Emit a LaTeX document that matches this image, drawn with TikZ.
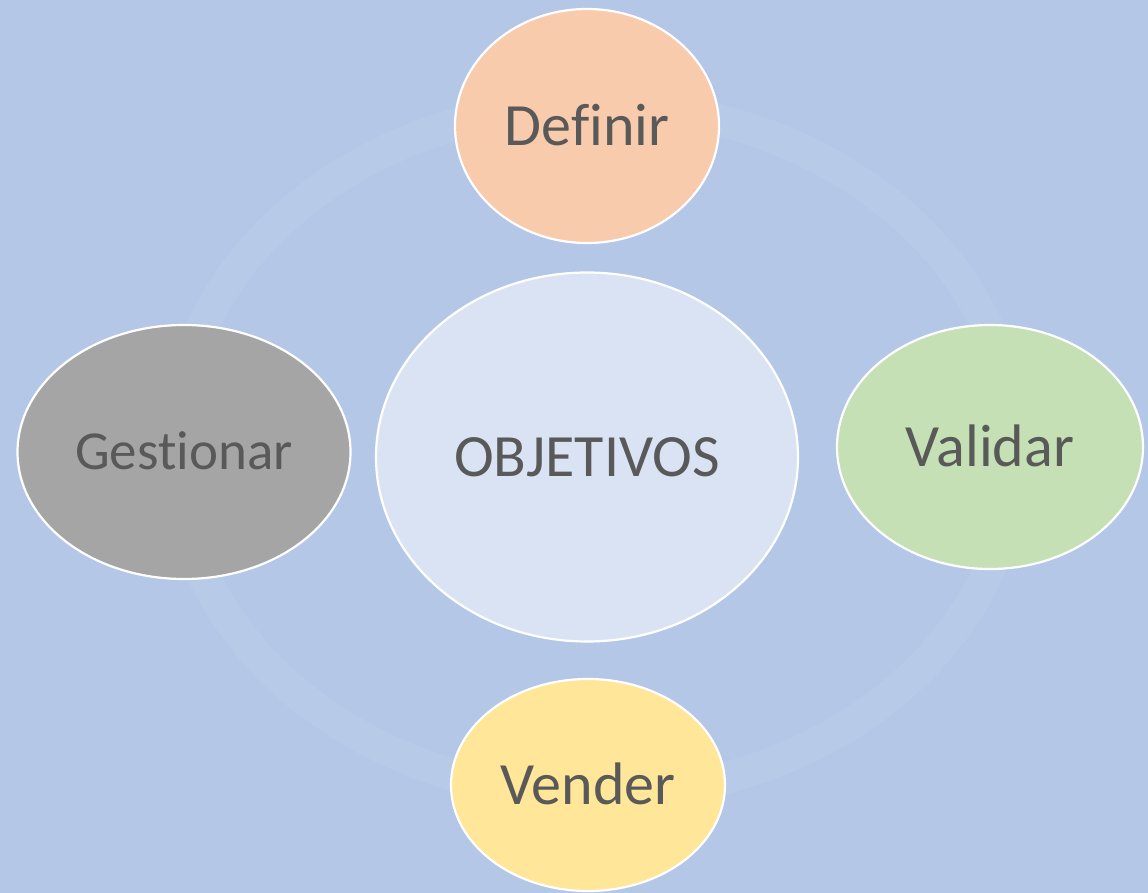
\documentclass[tikz,border=0pt]{standalone}
\usepackage{fontspec}
\setmainfont[Ligatures=NoCommon]{Carlito}
\usetikzlibrary{shapes.geometric}
\definecolor{bgblue}{HTML}{B4C7E7}
\definecolor{ringc}{HTML}{B7CAE8}
\definecolor{cdef}{HTML}{F8CBAD}
\definecolor{cobj}{HTML}{DAE3F3}
\definecolor{cval}{HTML}{C5E0B4}
\definecolor{cges}{HTML}{A5A5A5}
\definecolor{cven}{HTML}{FFE699}
\definecolor{txtgray}{HTML}{595959}
\begin{document}
\begin{tikzpicture}[x=1pt,y=-1pt,
  bubble/.style={ellipse, draw=white, line width=2.2pt, inner sep=0pt,
    text=txtgray, font=\fontsize{60}{72}\selectfont,
    text height=38.6pt, text depth=0pt},
  smallbubble/.style={bubble, font=\fontsize{55}{66}\selectfont, text height=35.4pt}]
\useasboundingbox (0,0) rectangle (1148,893);
\fill[bgblue] (0,0) rectangle (1148,893);
% faint ring
\draw[ringc, line width=32pt] (595,450) ellipse [x radius=420pt, y radius=345pt];
% bubbles
\node[bubble, fill=cobj, minimum width=422pt, minimum height=369pt] (obj) at (587,457) {OBJETIVOS};
\node[bubble, fill=cdef, minimum width=264pt, minimum height=234pt] (definir) at (587,126) {Definir};
\node[bubble, fill=cval, minimum width=306pt, minimum height=244pt] (validar) at (990,447) {Validar};
\node[smallbubble, fill=cges, minimum width=333pt, minimum height=254pt] (gestionar) at (184,452) {Gestionar};
\node[bubble, fill=cven, minimum width=274pt, minimum height=212pt] (vender) at (588,785) {Vender};
\end{tikzpicture}
\end{document}
